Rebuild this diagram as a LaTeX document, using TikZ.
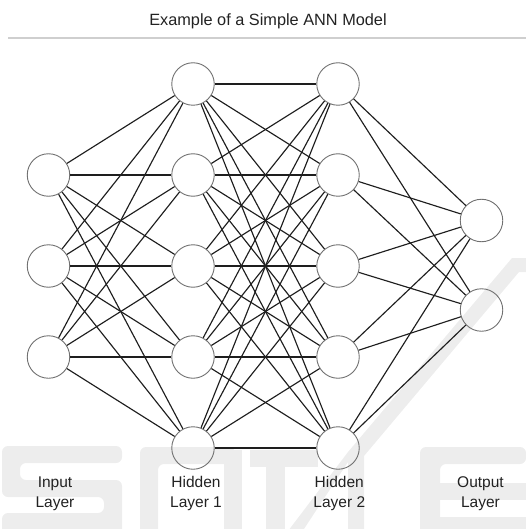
\documentclass[tikz,border=0pt]{standalone}
\usepackage{fontspec}
\setmainfont{Liberation Sans}
\definecolor{neurongray}{HTML}{707070}
\definecolor{linkblack}{HTML}{1E1E1E}
\definecolor{labelgray}{HTML}{222222}
\definecolor{rulegray}{HTML}{CFCFCF}
\definecolor{wmgray}{HTML}{EDEDED}
\begin{document}
\begin{tikzpicture}[x=1pt,y=-1pt,
  neuron/.style={circle,draw=neurongray,line width=0.9pt,minimum size=42.5pt,inner sep=0pt},
  link/.style={draw=linkblack,line width=1.15pt},
  caption/.style={font=\fontsize{15.5}{20.7}\selectfont,text=labelgray,align=center,anchor=base,inner sep=0pt},
  wm/.style={fill=wmgray,draw=none}]
\useasboundingbox (0,0) rectangle (526,529);

% faint background lettering
\fill[wm,rounded corners=6pt] (2,446) -- (122,446) -- (122,463) -- (20,463) -- (20,480) -- (122,480) -- (122,535) -- (2,535) -- (2,513) -- (104,513) -- (104,497) -- (2,497) -- cycle;
\fill[wm,rounded corners=6pt] (140,535) -- (140,447) -- (235,447) -- (235,464) -- (158,464) -- (158,535) -- cycle;
\fill[wm] (224,450) rectangle (242,535);
\fill[wm] (250,450) rectangle (318,467);
\fill[wm] (266,467) rectangle (285,535);
\fill[wm] (285,535) -- (300,535) -- (348,462) -- (348,535) -- (364,535) -- (364,456) -- (519,272) -- (526,272) -- (526,258) -- (512,258) -- (348,452) -- cycle;
\fill[wm,rounded corners=6pt] (420,535) -- (420,447) -- (526,447) -- (526,464) -- (440,464) -- (440,535) -- cycle;
\fill[wm] (440,483) rectangle (526,500);
\fill[wm] (440,517) rectangle (526,535);

% title and rule
\node[font=\fontsize{16.3}{19}\selectfont,text=labelgray,anchor=base,inner sep=0pt] (title) at (268,26) {Example of a Simple ANN Model};
\draw[rulegray,line width=1.7pt] (8,38.2) -- (526,38.2);

% neurons
\foreach \i/\y in {1/175,2/266,3/357} \node[neuron] (in\i) at (48.5,\y) {};
\foreach \i/\y in {1/84,2/175,3/266,4/357,5/448} {
  \node[neuron] (ha\i) at (193,\y) {};
  \node[neuron] (hb\i) at (338,\y) {};
}
\foreach \i/\y in {1/220.5,2/310} \node[neuron] (out\i) at (481.5,\y) {};

% connections
\foreach \a in {1,2,3} \foreach \b in {1,...,5} \draw[link] (in\a) -- (ha\b);
\foreach \a in {1,...,5} \foreach \b in {1,...,5} \draw[link] (ha\a) -- (hb\b);
\foreach \a in {1,...,5} \foreach \b in {1,2} \draw[link] (hb\a) -- (out\b);

% layer captions
\node[caption] (capin) at (55,507.7) {Input\\Layer};
\node[caption] (capha) at (196,507.7) {Hidden\\Layer 1};
\node[caption] (caphb) at (339.3,507.7) {Hidden\\Layer 2};
\node[caption] (capout) at (480.5,507.7) {Output\\Layer};
\end{tikzpicture}
\end{document}
